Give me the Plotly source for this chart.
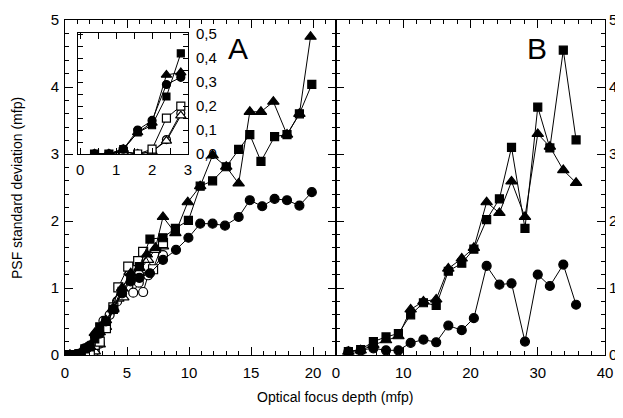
import plotly.graph_objects as go

# ---------------- Panel A data ----------------
ftA_x = [0.4, 0.8, 1.2, 1.6, 2.0, 2.4, 2.8, 3.3, 3.9, 4.6, 5.3, 6.0, 6.6, 7.3, 7.9, 8.9, 9.9, 10.9, 11.9, 13.0, 14.0, 14.9, 15.8, 16.8, 17.9, 18.9, 19.8]
ftA_y = [0.0, 0.0, 0.02, 0.09, 0.13, 0.33, 0.34, 0.52, 0.70, 1.00, 1.22, 1.30, 1.50, 1.60, 2.06, 1.82, 2.28, 2.52, 2.98, 2.81, 2.56, 3.63, 3.63, 3.78, 3.29, 3.60, 4.75]

fsA_x = [0.4, 0.8, 1.2, 1.6, 2.0, 2.4, 2.8, 3.3, 3.9, 4.6, 5.3, 6.0, 6.85, 7.9, 8.9, 9.95, 10.9, 11.9, 13.0, 14.0, 14.9, 15.8, 16.9, 17.9, 18.9, 19.9]
fsA_y = [0.0, 0.0, 0.02, 0.09, 0.12, 0.24, 0.42, 0.50, 0.68, 0.95, 1.15, 1.32, 1.73, 1.75, 1.89, 2.01, 2.52, 2.60, 2.81, 3.07, 3.29, 2.89, 3.26, 3.29, 3.60, 4.04]

fcA_x = [0.4, 0.8, 1.2, 1.6, 2.0, 2.4, 2.8, 3.3, 3.9, 4.6, 5.3, 6.0, 6.85, 7.9, 8.95, 9.95, 10.9, 11.9, 12.9, 14.0, 14.9, 15.9, 16.9, 17.9, 18.9, 19.9]
fcA_y = [0.0, 0.0, 0.02, 0.10, 0.14, 0.29, 0.32, 0.50, 0.68, 0.92, 1.10, 1.15, 1.22, 1.42, 1.57, 1.75, 1.96, 1.96, 1.93, 2.06, 2.31, 2.22, 2.33, 2.31, 2.23, 2.43]

osA_x = [0.4, 0.8, 1.2, 1.6, 2.0, 2.4, 2.8, 3.3, 3.9, 4.3, 5.1, 5.9, 6.3, 7.1, 7.9]
osA_y = [0.0, 0.0, 0.01, 0.0, 0.02, 0.15, 0.20, 0.40, 0.71, 1.01, 1.32, 1.40, 1.54, 1.28, 1.67]

otA_x = [0.4, 0.8, 1.2, 1.6, 2.0, 2.4, 2.8, 3.3, 3.9, 4.3, 4.7, 5.2, 5.95, 6.7, 7.25, 7.9]
otA_y = [0.0, 0.0, 0.01, 0.0, 0.01, 0.055, 0.16, 0.42, 0.68, 0.84, 0.86, 1.24, 1.24, 1.42, 1.57, 1.62]

ocA_x = [0.4, 0.8, 1.2, 1.6, 2.0, 2.4, 2.8, 3.1, 3.6, 4.2, 5.1, 5.5, 5.95, 6.3, 6.7, 7.9]
ocA_y = [0.0, 0.0, 0.01, 0.0, 0.01, 0.06, 0.17, 0.51, 0.60, 0.80, 1.02, 0.93, 1.08, 0.94, 1.19, 1.49]

# ---------------- Panel B data ----------------
B_x = [1.84, 3.67, 5.56, 7.44, 9.28, 11.1, 13.0, 14.9, 16.7, 18.7, 20.5, 22.4, 24.3, 26.1, 28.1, 30.0, 31.8, 33.8, 35.7]
sqB_y = [0.05, 0.08, 0.20, 0.27, 0.32, 0.60, 0.78, 0.74, 1.25, 1.37, 1.58, 2.02, 2.33, 3.10, 1.89, 3.70, 3.09, 4.55, 3.21]
trB_y = [0.05, 0.07, 0.15, 0.22, 0.28, 0.68, 0.80, 0.83, 1.29, 1.44, 1.60, 2.28, 2.12, 2.59, 2.06, 3.30, 3.11, 2.76, 2.57]
ciB_y = [0.05, 0.07, 0.10, 0.07, 0.07, 0.18, 0.23, 0.19, 0.44, 0.37, 0.55, 1.33, 1.05, 1.07, 0.20, 1.20, 1.03, 1.35, 0.75]

INSET_MAX = 2.8

# page is 623x418 but the html body has an 8px margin: the figure starts at (8, 8)
OFF = 8
W, H = 623 - OFF, 418 - OFF
def fx(p):
    return (p - OFF) / W
def fy(p):
    return (H - (p - OFF)) / H

FONT = "Liberation Sans, Arial, Helvetica, sans-serif"

fig = go.Figure()

def add(x, y, symbol, filled, size, xa, ya, lw=1):
    fig.add_trace(go.Scatter(
        x=x, y=y, mode="lines+markers", xaxis=xa, yaxis=ya,
        line=dict(color="black", width=lw),
        marker=dict(symbol=symbol, size=size,
                    color="black" if filled else "white",
                    line=dict(color="black", width=1.2)),
        showlegend=False, cliponaxis=True))

# panel A (open first, filled on top)
add(ocA_x, ocA_y, "circle", False, 9, "x", "y")
add(otA_x, otA_y, "triangle-up", False, 10, "x", "y")
add(osA_x, osA_y, "square", False, 9, "x", "y")
add(fcA_x, fcA_y, "circle", True, 9, "x", "y")
add(fsA_x, fsA_y, "square", True, 8, "x", "y")
add(ftA_x, ftA_y, "triangle-up", True, 10, "x", "y")

# panel B
add(B_x, ciB_y, "circle", True, 9, "x2", "y2")
add(B_x, trB_y, "triangle-up", True, 10, "x2", "y2")
add(B_x, sqB_y, "square", True, 8, "x2", "y2")

# inset (points up to 2.8 only)
def cut(x, y):
    xs = [a for a in x if a <= INSET_MAX + 1e-9]
    return xs, y[:len(xs)]

for (x, y, s, f, sz) in [
    (ocA_x, ocA_y, "circle", False, 8),
    (otA_x, otA_y, "triangle-up", False, 9),
    (osA_x, osA_y, "square", False, 8),
    (fcA_x, fcA_y, "circle", True, 8),
    (fsA_x, fsA_y, "square", True, 7),
    (ftA_x, ftA_y, "triangle-up", True, 9),
]:
    xs, ys = cut(x, y)
    add(xs, ys, s, f, sz, "x3", "y3")

tickfont = dict(family=FONT, size=15, color="black")
common = dict(showline=True, linecolor="black", linewidth=1, mirror="allticks",
              ticks="inside", tickcolor="black", tickwidth=1, showgrid=False,
              zeroline=False, tickfont=tickfont, automargin=False)

xA_l, xB_l, xB_r = 65, 336, 605
y_bot, y_top = 355, 20

def label(text, px, py, size, angle=0):
    return dict(text=text, x=fx(px), y=fy(py), xref="paper", yref="paper",
                xanchor="center", yanchor="middle", showarrow=False, textangle=angle,
                font=dict(family=FONT, size=size, color="black"))

fig.update_layout(
    width=W, height=H,
    margin=dict(l=0, r=0, t=0, b=0, autoexpand=False),
    paper_bgcolor="white", plot_bgcolor="rgba(0,0,0,0)",
    font=dict(family=FONT, color="black"),
    xaxis=dict(domain=[fx(xA_l), fx(xB_l)], range=[0, 21.85], anchor="y",
               tickvals=[0, 5, 10, 15, 20], ticklen=8, ticklabelstandoff=4,
               minor=dict(dtick=1, ticklen=4, ticks="inside", tickcolor="black"),
               **common),
    yaxis=dict(domain=[fy(y_bot), fy(y_top)], range=[0, 5], anchor="x",
               tickvals=[0, 1, 2, 3, 4, 5], ticklen=8, ticklabelstandoff=2,
               minor=dict(dtick=0.2, ticklen=4, ticks="inside", tickcolor="black"),
               **common),
    xaxis2=dict(domain=[fx(xB_l), fx(xB_r)], range=[0, 40], anchor="y2",
                tickvals=[0, 10, 20, 30, 40], ticklen=8, ticklabelstandoff=4,
                minor=dict(dtick=2, ticklen=4, ticks="inside", tickcolor="black"),
                **common),
    yaxis2=dict(domain=[fy(y_bot), fy(y_top)], range=[0, 5], anchor="x2", side="right",
                tickvals=[0, 1, 2, 3, 4, 5], ticklen=8,
                minor=dict(dtick=0.2, ticklen=4, ticks="inside", tickcolor="black"),
                **common),
    xaxis3=dict(domain=[fx(78), fx(188)], range=[-0.06, 3.0], anchor="y3",
                tickvals=[0, 0.5, 1, 1.5, 2, 2.5, 3], ticktext=["0", "", "1", "", "2", "", "3"],
                ticklen=6, ticklabelstandoff=2, **common),
    yaxis3=dict(domain=[fy(154), fy(33)], range=[0, 0.505], anchor="x3", side="right",
                tickvals=[0, 0.05, 0.1, 0.15, 0.2, 0.25, 0.3, 0.35, 0.4, 0.45, 0.5],
                ticktext=["0,0", "", "0,1", "", "0,2", "", "0,3", "", "0,4", "", "0,5"],
                ticklen=5, ticklabelstandoff=4, **common),
    annotations=[
        label("A", 238, 49, 30),
        label("B", 537, 49, 30),
        label("Optical focus depth (mfp)", 335, 397, 14),
        label("PSF standard deviation (mfp)", 17, 188, 14, angle=-90),
    ],
)

fig.write_html("out.html")
